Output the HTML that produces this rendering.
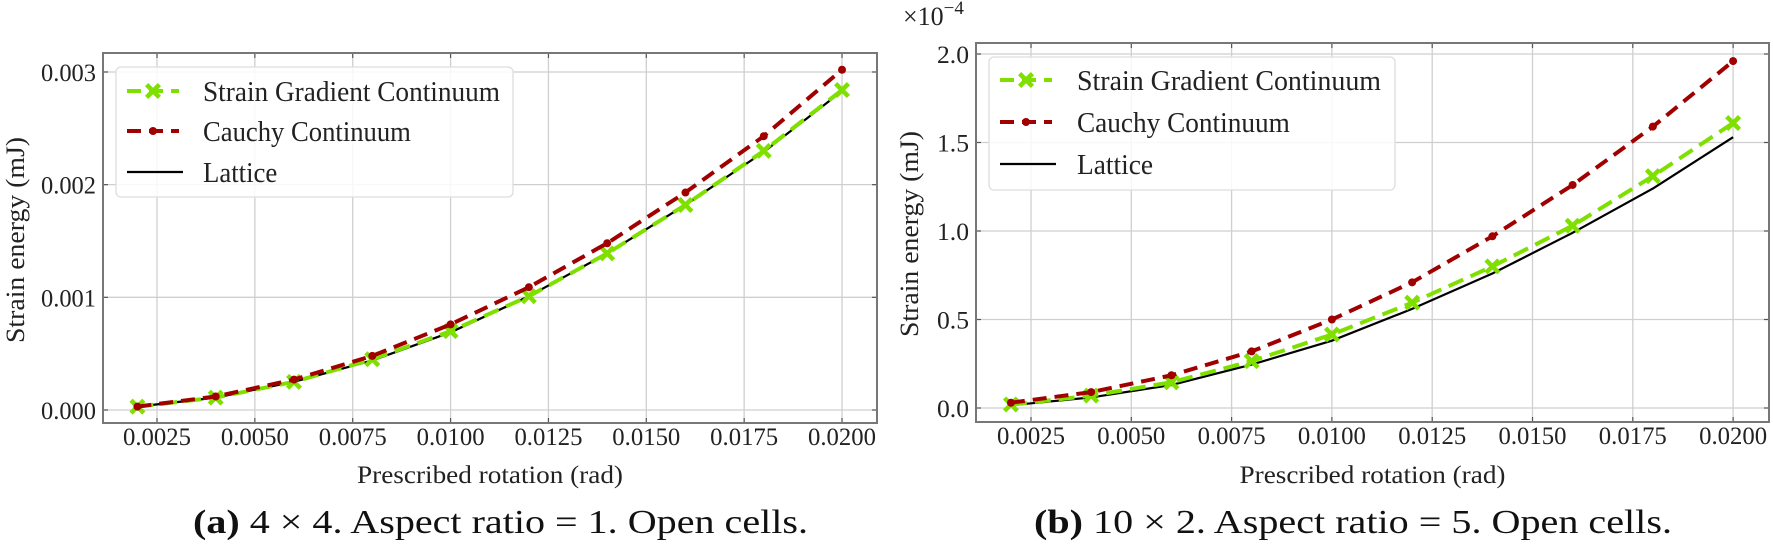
<!DOCTYPE html>
<html><head><meta charset="utf-8"><style>
html,body{margin:0;padding:0;background:#fff;}
svg{display:block;font-family:"Liberation Serif",serif;}
</style></head><body>
<svg id="fig" width="1773" height="545" viewBox="0 0 1773 545" xmlns="http://www.w3.org/2000/svg"></svg>
<script>
// ---- data ----
const rotations = [0.002,0.004,0.006,0.008,0.010,0.012,0.014,0.016,0.018,0.020];
const xTicks = [0.0025,0.0050,0.0075,0.0100,0.0125,0.0150,0.0175,0.0200];
const xTickLabels = ["0.0025","0.0050","0.0075","0.0100","0.0125","0.0150","0.0175","0.0200"];
const aGradient = [0.00003,0.00011,0.00025,0.00045,0.00070,0.00101,0.00139,0.00182,0.00230,0.00284];
const aCauchy   = [0.00003,0.00012,0.00027,0.00048,0.00076,0.00109,0.00148,0.00193,0.00243,0.00302];
const aLattice  = [0.00003,0.00011,0.00025,0.00044,0.00069,0.00101,0.00139,0.00182,0.00229,0.00283];
const aYTicks = [0,0.001,0.002,0.003];
const aYTickLabels = ["0.000","0.001","0.002","0.003"];
const bGradient = [0.02,0.07,0.145,0.265,0.415,0.595,0.80,1.03,1.31,1.61];
const bCauchy   = [0.03,0.09,0.185,0.32,0.50,0.71,0.97,1.26,1.59,1.96];
const bLattice  = [0.015,0.06,0.13,0.245,0.38,0.56,0.76,0.99,1.24,1.53];
const bYTicks = [0,0.5,1.0,1.5,2.0];
const bYTickLabels = ["0.0","0.5","1.0","1.5","2.0"];

const NS="http://www.w3.org/2000/svg";
const svg=document.getElementById('fig');
function mk(tag,attrs,parent){const e=document.createElementNS(NS,tag);for(const k in attrs)e.setAttribute(k,attrs[k]);(parent||svg).appendChild(e);return e;}

function panel(p){
  const g=mk('g',{});
  
  
  const sx=v=>p.x0+(v-0.0025)/0.0025*p.xs;
  const sy=v=>p.y0-v*p.ys;
  xTicks.forEach((t,i)=>{
    const l=mk('line',{x1:sx(t),x2:sx(t),y1:p.top,y2:p.bottom,stroke:'#cfcfcf','stroke-width':1.3},g);
    
    
    mk('line',{x1:sx(t),x2:sx(t),y1:p.bottom,y2:p.bottom-5,stroke:'#555','stroke-width':1.2},g);
    mk('line',{x1:sx(t),x2:sx(t),y1:p.top,y2:p.top+5,stroke:'#555','stroke-width':1.2},g);
    const tx=mk('text',{x:sx(t),y:p.bottom+22,'font-size':25,'text-anchor':'middle',fill:'#222',textLength:68,lengthAdjust:'spacingAndGlyphs'},g);
    tx.textContent=xTickLabels[i];
    
    
  });
  p.yt.forEach((t,i)=>{
    const l=mk('line',{x1:p.left,x2:p.right,y1:sy(t),y2:sy(t),stroke:'#cfcfcf','stroke-width':1.3},g);
    
    
    mk('line',{x1:p.left,x2:p.left+5,y1:sy(t),y2:sy(t),stroke:'#555','stroke-width':1.2},g);
    mk('line',{x1:p.right,x2:p.right-5,y1:sy(t),y2:sy(t),stroke:'#555','stroke-width':1.2},g);
    const tx=mk('text',{x:p.left-7,y:sy(t)+9,'font-size':25,'text-anchor':'end',fill:'#222',textLength:p.ytw,lengthAdjust:'spacingAndGlyphs'},g);
    tx.textContent=p.ytl[i];
    
    
  });
  const fr=mk('rect',{x:p.left,y:p.top,width:p.right-p.left,height:p.bottom-p.top,fill:'none',stroke:'#777','stroke-width':2},g);
  
  
  const pts=arr=>arr.map((v,i)=>sx(rotations[i]).toFixed(1)+','+sy(v).toFixed(1)).join(' ');
  const lat=mk('polyline',{points:pts(p.lat),fill:'none',stroke:'#000','stroke-width':2.2},g);
  
  
  const sg=mk('polyline',{points:pts(p.sg),fill:'none',stroke:'#7fe000','stroke-width':4,'stroke-dasharray':'16 8'},g);
  
  
  p.sg.forEach((v,i)=>{
    const m=mk('path',{d:xMarker(sx(rotations[i]),sy(v)),fill:'#7fe000'},g);
    
    
  });
  const ca=mk('polyline',{points:pts(p.ca),fill:'none',stroke:'#a00000','stroke-width':4,'stroke-dasharray':'14 8'},g);
  
  
  p.ca.forEach((v,i)=>{
    const m=mk('circle',{cx:sx(rotations[i]),cy:sy(v),r:4,fill:'#a00000'},g);
    
    
  });
  const L=p.leg;
  const lb=mk('rect',{x:L.x,y:L.y,width:L.w,height:L.h,rx:5,fill:'rgba(255,255,255,0.85)',stroke:'#dddddd','stroke-width':1.3},g);
  
  
  const hx=L.x+11, hw=52;
  const names=['Strain Gradient Continuum','Cauchy Continuum','Lattice'];
  const lens=[L.tw,L.tw*0.70,L.tw*0.25];
  names.forEach((n,i)=>{
    const yy=L.rows[i];
    if(i===0){mk('line',{x1:hx,x2:hx+hw,y1:yy,y2:yy,stroke:'#7fe000','stroke-width':4,'stroke-dasharray':'14 8'},g);mk('path',{d:xMarker(hx+hw/2,yy),fill:'#7fe000'},g);}
    if(i===1){mk('line',{x1:hx,x2:hx+hw,y1:yy,y2:yy,stroke:'#a00000','stroke-width':4,'stroke-dasharray':'14 8'},g);mk('circle',{cx:hx+hw/2,cy:yy,r:4,fill:'#a00000'},g);}
    if(i===2){mk('line',{x1:hx,x2:hx+hw+4,y1:yy,y2:yy,stroke:'#000','stroke-width':2.2},g);}
    const t=mk('text',{x:L.tx,y:yy+10,'font-size':28,fill:'#222',textLength:lens[i],lengthAdjust:'spacingAndGlyphs'},g);
    t.textContent=n;
    
    
  });
  const xt=mk('text',{x:(p.left+p.right)/2,y:483,'font-size':25,'text-anchor':'middle',fill:'#222',textLength:266,lengthAdjust:'spacingAndGlyphs'},g);
  xt.textContent='Prescribed rotation (rad)';
  
  
  const yt=mk('text',{x:0,y:0,'font-size':26,'text-anchor':'middle',fill:'#222',textLength:206,lengthAdjust:'spacingAndGlyphs',transform:`translate(${p.ytx},${p.yty}) rotate(-90)`},g);
  yt.textContent='Strain energy (mJ)';
  
  
  const cp=mk('text',{x:p.capx,y:533,'font-size':34,fill:'#111',textLength:p.capw,lengthAdjust:'spacingAndGlyphs'},g);
  
  
  const b=mk('tspan',{'font-weight':'bold'},cp); b.textContent=p.capb;
  const r=mk('tspan',{},cp); r.textContent=p.capr;
}
function xMarker(x,y){
  const a=8,w=3.2;
  return `M${x-a},${y-a+w} L${x-a+w},${y-a} L${x},${y-w} L${x+a-w},${y-a} L${x+a},${y-a+w} L${x+w},${y} L${x+a},${y+a-w} L${x+a-w},${y+a} L${x},${y+w} L${x-a+w},${y+a} L${x-a},${y+a-w} L${x-w},${y} Z`;
}
panel({id:'a',left:103,right:877,top:53,bottom:423,x0:157,xs:97.86,y0:410,ys:112670,
  yt:aYTicks,ytl:aYTickLabels,ytw:55,sg:aGradient,ca:aCauchy,lat:aLattice,
  leg:{x:116,y:67,w:397,h:130,rows:[91,131,172],tx:203,tw:297},
  ytx:24,yty:240,capx:193,capw:615,capb:'(a)',capr:' 4 × 4. Aspect ratio = 1. Open cells.'});
panel({id:'b',left:976,right:1769,top:43,bottom:422,x0:1031,xs:100.3,y0:408,ys:177,
  yt:bYTicks,ytl:bYTickLabels,ytw:32,sg:bGradient,ca:bCauchy,lat:bLattice,
  leg:{x:989,y:57,w:406,h:133,rows:[80,122,164],tx:1077,tw:304},
  ytx:918,yty:234,capx:1034,capw:638,capb:'(b)',capr:' 10 × 2. Aspect ratio = 5. Open cells.'});
const ex=mk('text',{x:903,y:25,'font-size':26,fill:'#222'});


ex.textContent='×10';
const sup=mk('tspan',{dy:-11,'font-size':19},ex); sup.textContent='−4';
</script>
</body></html>
